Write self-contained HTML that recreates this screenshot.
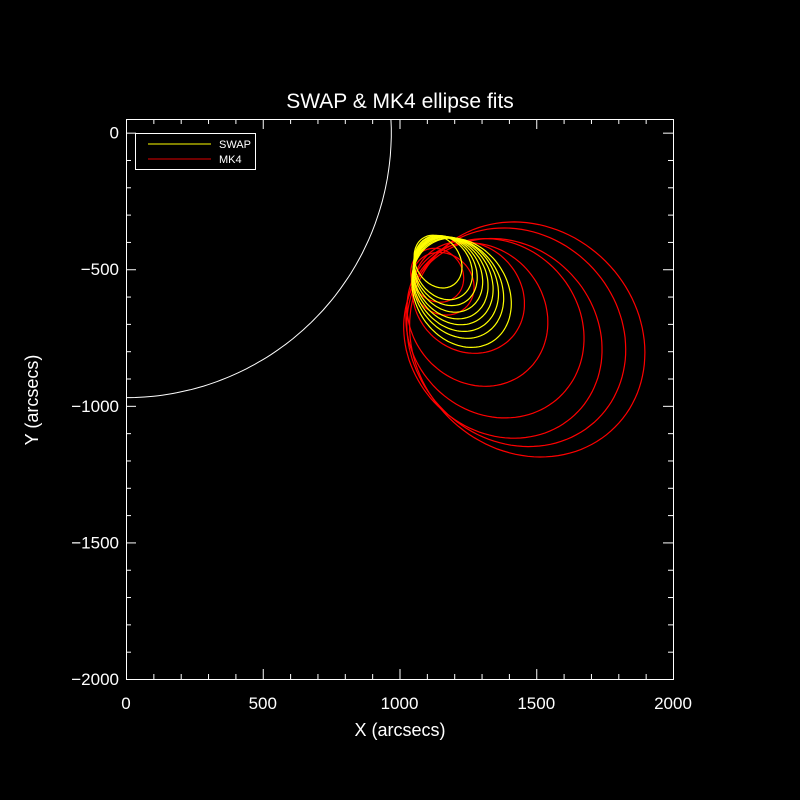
<!DOCTYPE html>
<html><head><meta charset="utf-8">
<style>
html,body{margin:0;padding:0;background:#000;}
svg{display:block;}
text{font-family:"Liberation Sans",sans-serif;fill:#fff;}
</style></head>
<body>
<svg id="chart" width="800" height="800">
<rect width="800" height="800" fill="#000"/>
<text x="400" y="108" font-size="21" text-anchor="middle">SWAP &amp; MK4 ellipse fits</text>
<text x="400" y="736" font-size="18" text-anchor="middle">X (arcsecs)</text>
<text x="38" y="400" font-size="18" text-anchor="middle" transform="rotate(-90 38 400)">Y (arcsecs)</text>
<defs><clipPath id="clip"><rect x="126" y="119" width="547" height="560"/></clipPath></defs>
<g id="plot" clip-path="url(#clip)"></g>
<g id="axes"></g>
<g>
<rect x="135.5" y="133.5" width="120" height="36" fill="#000" stroke="#fff" stroke-width="1"/>
<line x1="148" y1="144" x2="211" y2="144" stroke="#ffff00"/>
<text x="219" y="148" font-size="11">SWAP</text>
<line x1="148" y1="159" x2="211" y2="159" stroke="#e00000"/>
<text x="219" y="163" font-size="11">MK4</text>
</g>
</svg>
<script>
// data (arcsec units)
const xTicks=[0,500,1000,1500,2000];
const yTicks=[0,-500,-1000,-1500,-2000];
const sunRadius=970;
const redCx=[1467,1427,1378,1349,1285,1252,1158,1138];
const redCy=[-757,-749,-753,-716,-666,-603,-553,-522];
const redA=[454,422,384,345,274,216,121,103];
const redB=[405,377,343,308,245,193,108,92];
const redTheta=[45,45,47,47,50,45,45,50];
const yelCx=[1141,1160,1168,1178,1187,1196,1205,1214,1227];
const yelCy=[-472,-494,-505,-518,-531,-542,-555,-569,-586];
const yelA=[102,124,135,147,159,170,182,194,211];
const yelB=[81,99,108,117,127,136,146,155,169];
const yelTheta=[58,58,58,58,58,58,58,58,58];

const X0=126,X1=673,Y0=119,Y1=679,xmin=0,xmax=2000,ymin=-2000,ymax=50;
const sx=v=>X0+(v-xmin)/(xmax-xmin)*(X1-X0);
const sy=v=>Y1-(v-ymin)/(ymax-ymin)*(Y1-Y0);
const NS='http://www.w3.org/2000/svg';
const plot=document.getElementById('plot'),axes=document.getElementById('axes');
function mk(tag,attrs,parent){const e=document.createElementNS(NS,tag);for(const k in attrs)e.setAttribute(k,attrs[k]);parent.appendChild(e);return e;}

// sun limb
{let d='';for(let i=0;i<=360;i++){const t=i*Math.PI/180;const x=sunRadius*Math.cos(t),y=sunRadius*Math.sin(t);d+=(i?'L':'M')+sx(x).toFixed(1)+','+sy(y).toFixed(1);}
const p=mk('path',{d:d,fill:'none',stroke:'#fff','stroke-width':1},plot);

}

function ell(cx,cy,a,b,th,color,name){
  const r=th*Math.PI/180;let d='';
  for(let i=0;i<=120;i++){const t=i/120*2*Math.PI;const u=a*Math.cos(t),v=b*Math.sin(t);
    const x=cx+u*Math.cos(r)+v*Math.sin(r);const y=cy-u*Math.sin(r)+v*Math.cos(r);
    d+=(i?'L':'M')+sx(x).toFixed(1)+','+sy(y).toFixed(1);}
  const p=mk('path',{d:d+'Z',fill:'none',stroke:color,'stroke-width':1.2},plot);
  
  
}
redCx.forEach((c,i)=>ell(c,redCy[i],redA[i],redB[i],redTheta[i],'#ff0000','mk4-ellipse'));
yelCx.forEach((c,i)=>ell(c,yelCy[i],yelA[i],yelB[i],yelTheta[i],'#ffff00','swap-ellipse'));

// frame
{const f=mk('rect',{x:X0+0.5,y:Y0+0.5,width:X1-X0,height:Y1-Y0,fill:'none',stroke:'#fff','stroke-width':1},axes);

}
for(let v=0;v<=2000;v+=100){const x=sx(v)+0.5,L=(v%500===0)?10:5;
  mk('line',{x1:x,y1:Y1,x2:x,y2:Y1-L,stroke:'#fff'},axes);
  mk('line',{x1:x,y1:Y0,x2:x,y2:Y0+L,stroke:'#fff'},axes);}
for(let v=0;v>=-2000;v-=100){const y=sy(v)+0.5,L=(v%500===0)?10:5;
  mk('line',{x1:X0,y1:y,x2:X0+L,y2:y,stroke:'#fff'},axes);
  mk('line',{x1:X1,y1:y,x2:X1-L,y2:y,stroke:'#fff'},axes);}
xTicks.forEach(v=>{const t=mk('text',{x:sx(v),y:Y1+30,'font-size':17,'text-anchor':'middle'},axes);t.textContent=v;
  
  });
yTicks.forEach(v=>{const t=mk('text',{x:X0-7,y:sy(v)+6,'font-size':17,'text-anchor':'end'},axes);t.textContent=v===0?'0':'\u2212'+(-v);
  
  });
</script>
</body></html>
